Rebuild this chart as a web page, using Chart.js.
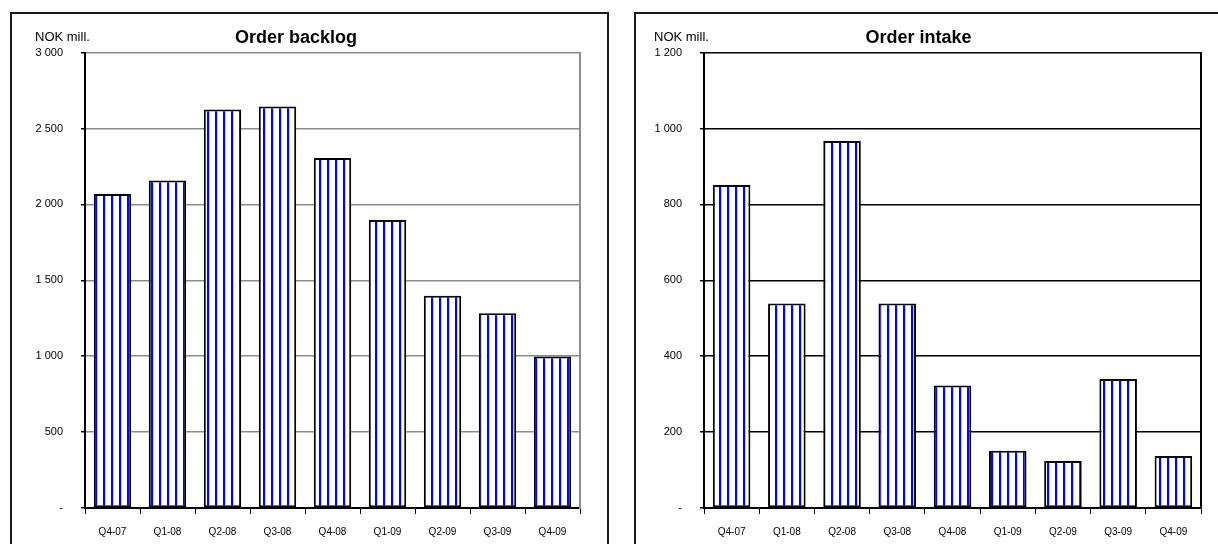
<!DOCTYPE html>
<html>
<head>
<meta charset="utf-8">
<script src="https://cdn.jsdelivr.net/npm/chart.js@4.4.1/dist/chart.umd.min.js"></script>
<style>
  body { margin: 0; background: #fff; width: 1218px; height: 544px; overflow: hidden; position: relative; }
  .panel { position: absolute; top: 12px; border: 2px solid #1a1a1a; background: #fff; }
  #left { left: 10px; width: 595px; height: 540px; }
  #right { left: 634px; width: 600px; height: 540px; }
  canvas { display: block; }
</style>
</head>
<body>
<div class="panel" id="left"><canvas id="backlog" width="595" height="540"></canvas></div>
<div class="panel" id="right"><canvas id="intake" width="600" height="540"></canvas></div>
<script>
const quarters = ['Q4-07', 'Q1-08', 'Q2-08', 'Q3-08', 'Q4-08', 'Q1-09', 'Q2-09', 'Q3-09', 'Q4-09'];
const backlogValues = [2068, 2158, 2625, 2645, 2305, 1898, 1398, 1283, 998];
const intakeValues = [851, 539, 967, 539, 323, 151, 124, 340, 137];
const backlogTicks = [0, 500, 1000, 1500, 2000, 2500, 3000];
const intakeTicks = [0, 200, 400, 600, 800, 1000, 1200];

const FONT = "'Liberation Sans', Arial, sans-serif";

// white bars with thin blue vertical stripes
function stripes(ctx) {
  const c = document.createElement('canvas');
  c.width = 8; c.height = 4;
  const g = c.getContext('2d');
  g.fillStyle = '#fff';
  g.fillRect(0, 0, 8, 4);
  g.fillStyle = '#c8c8ff';
  g.fillRect(5, 0, 1, 4);
  g.fillStyle = '#0000ff';
  g.fillRect(3, 0, 2, 4);
  return ctx.createPattern(c, 'repeat');
}

const fmt = v => v === 0 ? '-' : String(v).replace(/\B(?=(\d{3})+(?!\d))/g, ' ');

// "NOK mill." unit label in the top left corner
const unitLabel = {
  id: 'unitLabel',
  afterDraw(chart, args, opts) {
    const ctx = chart.ctx;
    ctx.save();
    ctx.font = '13px ' + FONT;
    ctx.fillStyle = '#000';
    ctx.textBaseline = 'middle';
    ctx.textAlign = 'left';
    ctx.fillText('NOK mill.', opts.x, opts.y);
    ctx.restore();
  }
};

function makeChart(id, title, values, ticks, gridColor, axisW, padRight, unitX) {
  const ctx = document.getElementById(id).getContext('2d');
  return new Chart(ctx, {
    type: 'bar',
    data: {
      labels: quarters,
      datasets: [{
        data: values,
        backgroundColor: stripes(ctx),
        borderColor: '#000',
        borderWidth: 2,
        borderSkipped: false,
        barPercentage: 0.68,
        categoryPercentage: 1
      }]
    },
    options: {
      responsive: false,
      animation: false,
      layout: { padding: { left: 0, right: padRight, top: 0, bottom: 0 } },
      plugins: {
        legend: { display: false },
        tooltip: { enabled: false },
        title: {
          display: true,
          text: title,
          color: '#000',
          font: { family: FONT, size: 18, weight: 'bold' },
          padding: { top: 13, bottom: 4 }
        },
        unitLabel: { x: unitX, y: 23 }
      },
      scales: {
        x: {
          grid: { display: true, drawOnChartArea: false, color: '#000', tickLength: 6, offset: true },
          border: { color: '#000', width: 2 },
          ticks: { color: '#000', font: { family: FONT, size: 10 }, padding: 12, maxRotation: 0 },
          afterFit: s => { s.height = 46; }
        },
        y: {
          min: ticks[0],
          max: ticks[ticks.length - 1],
          afterBuildTicks: s => { s.ticks = ticks.map(v => ({ value: v })); },
          grid: { color: gridColor, lineWidth: 1.5, tickLength: 4, tickColor: '#000' },
          border: { color: '#000', width: 2 },
          ticks: { color: '#000', font: { family: FONT, size: 11 }, padding: 18, callback: fmt },
          afterFit: s => { s.width = axisW; }
        },
        yr: {
          position: 'right',
          grid: { display: false },
          ticks: { display: false },
          border: { display: true, color: gridColor, width: 2 },
          afterFit: s => { s.width = 0; }
        }
      }
    },
    plugins: [unitLabel]
  });
}

makeChart('backlog', 'Order backlog', backlogValues, backlogTicks, '#8c8c8c', 73, 27, 23);
makeChart('intake', 'Order intake', intakeValues, intakeTicks, '#000', 68, 35, 18);
</script>
</body>
</html>
